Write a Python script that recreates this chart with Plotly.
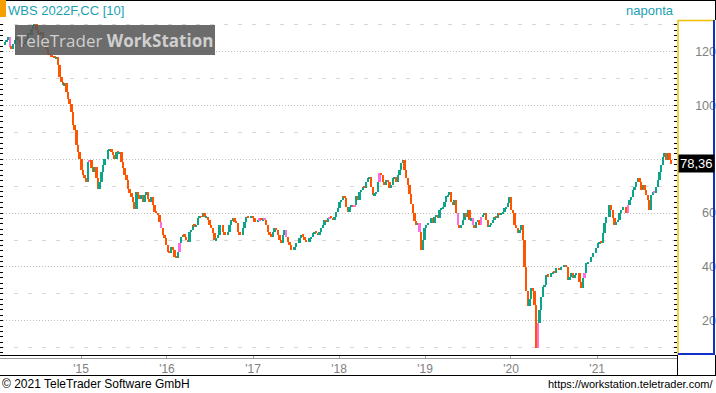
import plotly.graph_objects as go
import pandas as pd

# ---------------- data ----------------
closes_2014_2015 = [123.7, 124.3, 125.5, 121.8, 121.2, 123, 124.3, 125.5, 124.9, 123,
                    121.8, 123, 123.7, 124.9, 126.8, 126.1, 128.6, 129.9, 130.5, 128,
                    126.8, 126.1, 127.4, 123, 121.8, 121.2, 119.3, 118.7, 118.1, 118.1,
                    117.5, 118.1, 115, 110.7, 108.8, 107.6, 108.2, 105.1, 102.6, 100.7,
                    97.6, 92.7, 90.8, 85.3, 82.8, 80.3, 76, 74.1, 72.9, 71.6,
                    79.1, 79.7, 76.6, 75.3, 77.2, 72.9, 69.1, 71.6, 75.3, 77.8,
                    80.3, 80.3, 83.4, 84, 82.8, 81.5, 80.3, 82.8, 82.2, 82.8,
                    79.1, 76.6, 74.1, 72.2, 69.1, 67.3, 66, 64.2, 61.7, 67.9,
                    66.7, 65.4, 66.7, 64.2, 66.7, 67.9, 65.4, 64.2, 66, 62.9,
                    60.5, 59.9, 59.2, 56.8, 54.3, 51.8, 50.6, 48.1, 45.6]
closes_2016_2017 = [45.1, 47.5, 46.3, 43.8, 43.2, 45.7, 48.8, 51.3, 51.9, 51.3,
                    50, 49.4, 53.1, 53.7, 55.6, 55, 55.6, 58.1, 58.9, 58.7,
                    59.9, 58.4, 58.7, 57.4, 55.6, 54.3, 52.5, 50, 50.6, 51.9,
                    55.6, 55.6, 53.1, 51.9, 51.9, 53.1, 55.6, 57.4, 58.1, 56.8,
                    56.2, 53.1, 51.9, 51.9, 54.3, 56.8, 58.7, 58.1, 58.1, 58.9,
                    58.1, 56.8, 56.8, 57.4, 58.1, 57.4, 58.1, 57.4, 55.6, 53.1,
                    51.9, 51.3, 53.1, 54.3, 53.7, 51.9, 50, 48.8, 51.9, 53.7,
                    51.3, 49.4, 48.2, 46.3, 46.3, 47.5, 48.8, 48.8, 50.6, 51.9,
                    51.3, 50, 49.4, 49.4, 50.6, 51.3, 52.5, 53.1, 52.5, 51.9,
                    53.1, 54.3, 55.6, 57.4, 56.8, 58.1, 58.7, 58.1, 57.4]
closes_2018_2019 = [58.7, 60.5, 61.8, 64.3, 64.9, 66.2, 65.5, 62.4, 60.5, 62.4,
                    63, 62.4, 63, 66.2, 64.9, 68, 68.6, 69.8, 69.2, 71.7,
                    73, 73.6, 69.8, 66.7, 67.4, 68, 71.7, 74.8, 74.2, 71.7,
                    70.5, 72.3, 71.7, 69.2, 70.5, 73, 73.6, 71.7, 74.2, 76,
                    78.5, 79.8, 76, 73, 70.5, 67, 63.5, 60, 57, 55.6,
                    56.2, 53, 46.3, 50, 54.3, 55.6, 56.2, 56.2, 58.1, 56.2,
                    58.7, 59.3, 58.1, 61.2, 61.8, 62.4, 64.3, 66.2, 66.8, 68,
                    64.3, 63, 64.9, 59.9, 55.6, 54.3, 55.6, 57.4, 59.9, 58.7,
                    61.2, 57.4, 58.1, 55.6, 54.3, 56.8, 57.4, 55.6, 58.7, 59.3,
                    59.9, 57.4, 55, 55.6, 56.2, 57.4, 58.7, 58.1, 59.9, 59.3,
                    59.9, 60.5]
closes_2020_2021 = [61.8, 62.4, 63.6, 66.1, 61.2, 59.9, 55.6, 54.3, 52.5, 53.7,
                    55.6, 50, 40, 31, 25.5, 28, 32, 31, 26, 10,
                    19, 24, 29, 32.7, 33.3, 37, 36.4, 36.4, 37.6, 38.2,
                    37.6, 39.5, 39.5, 38.9, 40.1, 40.1, 40.7, 40.1, 35.1, 36.4,
                    37.6, 35.8, 37, 37.6, 37.6, 34.5, 32, 35.8, 37.6, 41.3,
                    42, 42, 43.8, 45.1, 45.1, 46.9, 48.8, 49.4, 48.8, 52.5,
                    56.2, 58.7, 58.7, 63, 61.2, 58.1, 55.6, 56.8, 57.4, 59.9,
                    61.2, 62.4, 62.4, 59.9, 63, 64.9, 66.1, 68.6, 69.8, 71.7,
                    73, 71.7, 68.6, 70.5, 68.6, 66.7, 64.9, 61.2, 66.7, 68,
                    67.4, 69.8, 72.3, 75.4, 77.9, 81, 82.2, 79.8, 82.2, 79.8,
                    78.36]
first_open = 122.5
pink_candles = [3, 51, 94, 105, 153, 156, 169, 195, 210, 225, 249, 272, 281, 286,
                320, 348, 374, 390]
first_date = "2014-02-12"
last_date = "2021-11-12"
year_ticks = ["2015-01-01", "2016-01-01", "2017-01-01", "2018-01-01",
              "2019-01-01", "2020-01-01", "2021-01-01"]
year_labels = ["'15", "'16", "'17", "'18", "'19", "'20", "'21"]
price_ticks = [20, 40, 60, 100, 120]
price_labels = ["20", "40", "60", "100", "120"]
last_price = 78.36
last_label = "78,36"
title_text = "WBS 2022F,CC [10]"
period_text = "naponta"

# ---------------- build ----------------
W, H = 716, 393
closes = closes_2014_2015 + closes_2016_2017 + closes_2018_2019 + closes_2020_2021
opens = [first_open] + closes[:-1]
dates = pd.date_range(first_date, last_date, periods=len(closes))

GREEN = "#0ca58a"
ORANGE = "#ff5500"
PINK = "#ff6ee0"
TEAL = "#1c9fb3"
GRAY = "#808080"

colors = []
for i, (o, c) in enumerate(zip(opens, closes)):
    if i in pink_candles:
        colors.append(PINK)
    elif c >= o:
        colors.append(GREEN)
    else:
        colors.append(ORANGE)

heights = [c - o for o, c in zip(opens, closes)]

def px(x):
    return x / W

def py(y):
    return 1 - y / H

fig = go.Figure()
fig.add_trace(go.Bar(
    x=dates, y=heights, base=opens,
    marker=dict(color=colors, line=dict(width=0)),
    width=8.0 * 86400000, hoverinfo="skip", showlegend=False,
))

yr = [7.25, 131.8]
fig.update_layout(
    width=W, height=H,
    margin=dict(l=0, r=0, t=0, b=0, autoexpand=False),
    paper_bgcolor="white", plot_bgcolor="white",
    showlegend=False, bargap=0,
    font=dict(family="Liberation Sans, Arial, sans-serif", size=12, color=GRAY),
    xaxis=dict(
        domain=[0, px(677)], range=["2014-01-22", "2021-12-06"],
        tickvals=year_ticks, ticktext=year_labels,
        ticks="outside", ticklen=3, tickcolor="#a0a0a0",
        showgrid=False, zeroline=False,
        showline=True, linecolor="black", linewidth=1,
        tickfont=dict(size=12, color=GRAY),
    ),
    yaxis=dict(
        domain=[py(355), py(20)], range=yr,
        tick0=0, dtick=20, showticklabels=False,
        ticks="inside", ticklen=3, tickcolor="black",
        mirror="ticks", showline=False, zeroline=False,
        showgrid=True, gridcolor="#c0c0c0", griddash="1px,2px", gridwidth=1,
        minor=dict(dtick=2, ticks="inside", ticklen=3, tickcolor="black", showgrid=False),
    ),
    yaxis2=dict(
        overlaying="y", anchor="x", range=yr, tick0=10, dtick=20,
        showticklabels=False, ticks="", zeroline=False, showline=False,
        showgrid=True, gridcolor="#d8d8d8", griddash="4px,10px", gridwidth=1,
    ),
    yaxis3=dict(
        overlaying="y", anchor="free", position=1.0, side="left", range=yr,
        tickvals=price_ticks, ticktext=price_labels, ticks="",
        showgrid=False, zeroline=False, showline=False,
        tickfont=dict(size=12.5, color=GRAY),
    ),
)

# invisible traces so overlay axes are drawn
fig.add_trace(go.Scatter(x=[dates[0]], y=[closes[0]], yaxis="y2", mode="markers",
                         marker=dict(opacity=0), hoverinfo="skip"))
fig.add_trace(go.Scatter(x=[dates[0]], y=[closes[0]], yaxis="y3", mode="markers",
                         marker=dict(opacity=0), hoverinfo="skip"))

shapes = []
def line(x0, y0, x1, y1, color, w=1):
    shapes.append(dict(type="line", xref="paper", yref="paper",
                       x0=px(x0), y0=py(y0), x1=px(x1), y1=py(y1),
                       line=dict(color=color, width=w), layer="above"))

# frame
line(0, 0.5, W, 0.5, "black", 1)
line(715.5, 0, 715.5, 20, "black", 1)
# right value-axis box
line(678, 20.5, 714, 20.5, "#f0c000", 1.5)
line(678, 20, 678, 355, "#f0c000", 1.5)
line(714, 20, 714, 355, "#1030c8", 2)
line(678, 354, 715, 354, "#1030c8", 2)
# time-axis strip
line(0, 358.5, 677, 358.5, "#9a9a9a", 1)
line(0, 375.5, W, 375.5, "black", 1)
line(677.5, 355, 677.5, 375, "black", 1)
line(715.5, 355, 715.5, 375, "black", 1)
# orange marker
shapes.append(dict(type="rect", xref="paper", yref="paper",
                   x0=0, x1=px(6), y0=py(17), y1=py(0),
                   fillcolor="#f5a000", line=dict(width=0), layer="above"))
# watermark box
shapes.append(dict(type="rect", xref="paper", yref="paper",
                   x0=px(15), x1=px(215), y0=py(55), y1=py(25),
                   fillcolor="rgba(88,88,88,0.88)", line=dict(width=0), layer="above"))
fig.update_layout(shapes=shapes)

ann = []
ann.append(dict(xref="paper", yref="paper", x=px(115), y=py(40),
                text="TeleTrader <b>WorkStation</b>", showarrow=False,
                font=dict(family="Open Sans, sans-serif", size=17, color="#cfcfcf"),
                xanchor="center", yanchor="middle"))
ann.append(dict(xref="paper", yref="paper", x=px(6), y=py(11),
                text=title_text, showarrow=False, xanchor="left", yanchor="middle",
                font=dict(size=13, color=TEAL)))
ann.append(dict(xref="paper", yref="paper", x=px(676), y=py(11),
                text=period_text, showarrow=False, xanchor="right", yanchor="middle",
                font=dict(size=13, color=TEAL)))
ann.append(dict(xref="paper", yref="y", x=px(678), y=last_price,
                text=last_label, showarrow=False, xanchor="left", yanchor="middle",
                bgcolor="black", borderpad=1,
                font=dict(size=13, color="white")))
ann.append(dict(xref="paper", yref="paper", x=0, y=py(384),
                text="© 2021 TeleTrader Software GmbH", showarrow=False,
                xanchor="left", yanchor="middle", font=dict(size=12, color="black")))
ann.append(dict(xref="paper", yref="paper", x=px(715), y=py(384),
                text="https://workstation.teletrader.com/", showarrow=False,
                xanchor="right", yanchor="middle", font=dict(size=11, color="black")))
fig.update_layout(annotations=ann)

fig.write_html("out.html", config={"displayModeBar": False},
               post_script="document.body.style.margin='0px';")
